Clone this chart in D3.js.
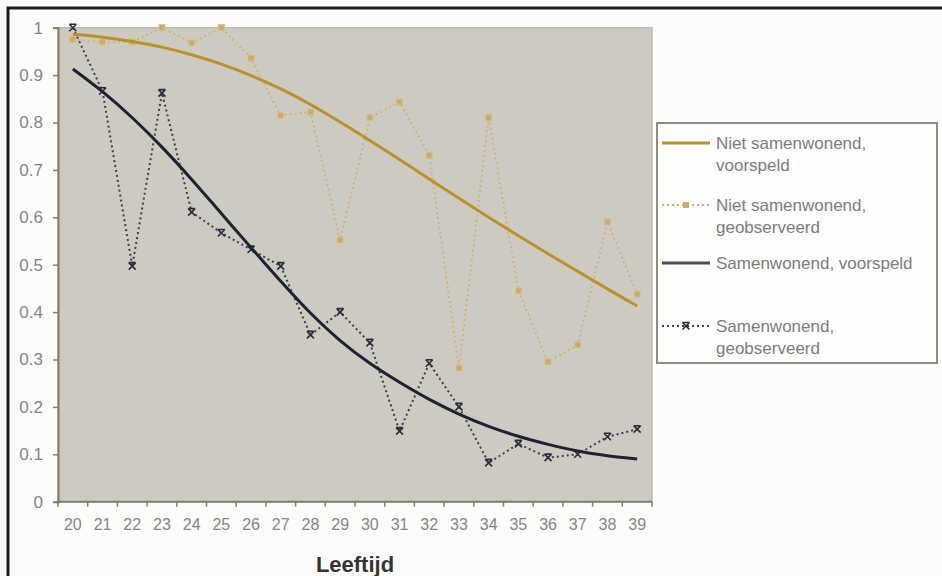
<!DOCTYPE html>
<html>
<head>
<meta charset="utf-8">
<script src="https://cdn.jsdelivr.net/npm/d3@7"></script>
<style>
  html, body { margin: 0; padding: 0; background: #fcfcfa; }
  svg { display: block; }
  text { font-family: "Liberation Sans", Arial, sans-serif; }
</style>
</head>
<body>
<svg id="chart" width="942" height="576"></svg>
<script>
// ---- data ----
const ages = ["20","21","22","23","24","25","26","27","28","29","30","31","32","33","34","35","36","37","38","39"];
const nietVoorspeld = [0.986,0.980,0.971,0.959,0.943,0.923,0.899,0.871,0.838,0.801,0.762,0.722,0.681,0.640,0.600,0.561,0.523,0.486,0.449,0.413];
const nietGeobserveerd = [0.975,0.970,0.970,1.000,0.968,1.000,0.936,0.815,0.822,0.552,0.810,0.843,0.731,0.282,0.810,0.445,0.295,0.331,0.590,0.438];
const samenVoorspeld = [0.913,0.865,0.810,0.748,0.680,0.608,0.536,0.465,0.398,0.340,0.292,0.252,0.216,0.185,0.159,0.138,0.121,0.107,0.097,0.090];
const samenGeobserveerd = [1.000,0.866,0.497,0.862,0.611,0.567,0.532,0.497,0.352,0.400,0.335,0.149,0.292,0.200,0.082,0.122,0.093,0.100,0.137,0.153];
const yTicks = [0,0.1,0.2,0.3,0.4,0.5,0.6,0.7,0.8,0.9,1];
const xTitle = "Leeftijd";
const legendLabels = [
  ["Niet samenwonend,", "voorspeld"],
  ["Niet samenwonend,", "geobserveerd"],
  ["Samenwonend, voorspeld"],
  ["Samenwonend,", "geobserveerd"]
];

// ---- layout ----
const svg = d3.select("#chart");
const P = { left: 58, right: 652, top: 27.7, bottom: 501.7 };
const x = d3.scaleBand().domain(ages).range([P.left, P.right]).padding(0);
const y = d3.scaleLinear().domain([0, 1]).range([P.bottom, P.top]);
const cx = d => x(d) + x.bandwidth() / 2;

const tanDark = "#b8932c", tanLight = "#d2b274", navy = "#1e2130", navyObs = "#3a3d4c";
const axisCol = "#857b69", labelCol = "#858585";

// outer frame
svg.append("rect").attr("x", 8).attr("y", 8).attr("width", 1200).attr("height", 1200)
  .attr("fill", "none").attr("stroke", "#1c1c1c").attr("stroke-width", 3);

// plot background
svg.append("rect").attr("x", P.left).attr("y", P.top)
  .attr("width", P.right - P.left).attr("height", P.bottom - P.top)
  .attr("fill", "#cdcbc1").attr("stroke", "#bdbbb1").attr("stroke-width", 1.5);

// y axis
const yAxis = d3.axisLeft(y).tickValues(yTicks).tickSize(5).tickPadding(10)
  .tickFormat(d => d3.format("")(+d.toFixed(1)));
const gy = svg.append("g").attr("transform", `translate(${P.left},0)`).call(yAxis);
gy.select(".domain").attr("stroke", axisCol).attr("stroke-width", 2);
gy.selectAll(".tick line").attr("stroke", axisCol).attr("stroke-width", 1.5);
gy.selectAll(".tick text").attr("fill", labelCol).attr("font-size", 17)
  .attr("font-family", "Liberation Sans, Arial, sans-serif");

// x axis (labels between tick marks)
const xAxis = d3.axisBottom(x).tickSize(0).tickPadding(17);
const gx = svg.append("g").attr("transform", `translate(0,${P.bottom})`).call(xAxis);
gx.select(".domain").remove();
gx.selectAll(".tick text").attr("fill", labelCol).attr("font-size", 16)
  .attr("font-family", "Liberation Sans, Arial, sans-serif");
svg.append("line").attr("x1", P.left).attr("x2", P.right).attr("y1", P.bottom).attr("y2", P.bottom)
  .attr("stroke", axisCol).attr("stroke-width", 2);
const edges = ages.map(a => x(a)).concat([x(ages[ages.length - 1]) + x.bandwidth()]);
svg.append("g").selectAll("line").data(edges).join("line")
  .attr("x1", d => d).attr("x2", d => d).attr("y1", P.bottom).attr("y2", P.bottom + 5)
  .attr("stroke", axisCol).attr("stroke-width", 1.5);

// x title
svg.append("text").attr("x", (P.left + P.right) / 2).attr("y", 572)
  .attr("text-anchor", "middle").attr("font-size", 22).attr("font-weight", "bold")
  .attr("fill", "#333333").text(xTitle);

// lines
const lineSmooth = d3.line().x((d, i) => cx(ages[i])).y(d => y(d)).curve(d3.curveCatmullRom.alpha(0.5));
const lineStraight = d3.line().x((d, i) => cx(ages[i])).y(d => y(d));

// observed tan
svg.append("path").attr("d", lineStraight(nietGeobserveerd)).attr("fill", "none")
  .attr("stroke", tanLight).attr("stroke-width", 2).attr("stroke-dasharray", "2,3");
svg.append("g").selectAll("rect").data(nietGeobserveerd).join("rect")
  .attr("x", (d, i) => cx(ages[i]) - 3).attr("y", d => y(d) - 3)
  .attr("width", 6).attr("height", 6).attr("fill", "#c9ab6c").attr("stroke", "#d8c08e").attr("stroke-width", 1);

// observed navy
svg.append("path").attr("d", lineStraight(samenGeobserveerd)).attr("fill", "none")
  .attr("stroke", navyObs).attr("stroke-width", 2).attr("stroke-dasharray", "2,3");
const xMark = (px, py, s) => `M${px - s},${py - s}L${px + s},${py + s}M${px - s},${py + s}L${px + s},${py - s}M${px - s},${py - s}L${px + s},${py - s}`;
svg.append("g").selectAll("path").data(samenGeobserveerd).join("path")
  .attr("d", (d, i) => xMark(cx(ages[i]), y(d), 3.5))
  .attr("fill", "none").attr("stroke", "#2a2d3a").attr("stroke-width", 1.6);

// predicted
svg.append("path").attr("d", lineSmooth(nietVoorspeld)).attr("fill", "none")
  .attr("stroke", tanDark).attr("stroke-width", 3);
svg.append("path").attr("d", lineSmooth(samenVoorspeld)).attr("fill", "none")
  .attr("stroke", navy).attr("stroke-width", 3);

// legend
const lg = svg.append("g");
lg.append("rect").attr("x", 657).attr("y", 123).attr("width", 280).attr("height", 240)
  .attr("fill", "#fdfdfb").attr("stroke", "#8e8c84").attr("stroke-width", 2);
const legendY = [143, 205, 263, 326];
const styles = [
  { stroke: tanDark, w: 3, dash: null, marker: null },
  { stroke: tanLight, w: 2, dash: "2,3", marker: "sq" },
  { stroke: "#4a4c5a", w: 3, dash: null, marker: null },
  { stroke: navyObs, w: 2, dash: "2,3", marker: "x" }
];
legendLabels.forEach((lab, i) => {
  const ly = legendY[i], st = styles[i];
  lg.append("line").attr("x1", 662).attr("x2", 710).attr("y1", ly).attr("y2", ly)
    .attr("stroke", st.stroke).attr("stroke-width", st.w).attr("stroke-dasharray", st.dash);
  if (st.marker === "sq") {
    lg.append("rect").attr("x", 683).attr("y", ly - 3).attr("width", 6).attr("height", 6)
      .attr("fill", "#c9ab6c");
  } else if (st.marker === "x") {
    lg.append("path").attr("d", xMark(686, ly, 3.5)).attr("fill", "none")
      .attr("stroke", "#2a2d3a").attr("stroke-width", 1.6);
  }
  const t = lg.append("text").attr("x", 716).attr("y", ly + 6).attr("font-size", 17).attr("fill", "#7c7c7c");
  lab.forEach((s, j) => t.append("tspan").attr("x", 716).attr("dy", j === 0 ? 0 : 21.5).text(s));
});
</script>
</body>
</html>
